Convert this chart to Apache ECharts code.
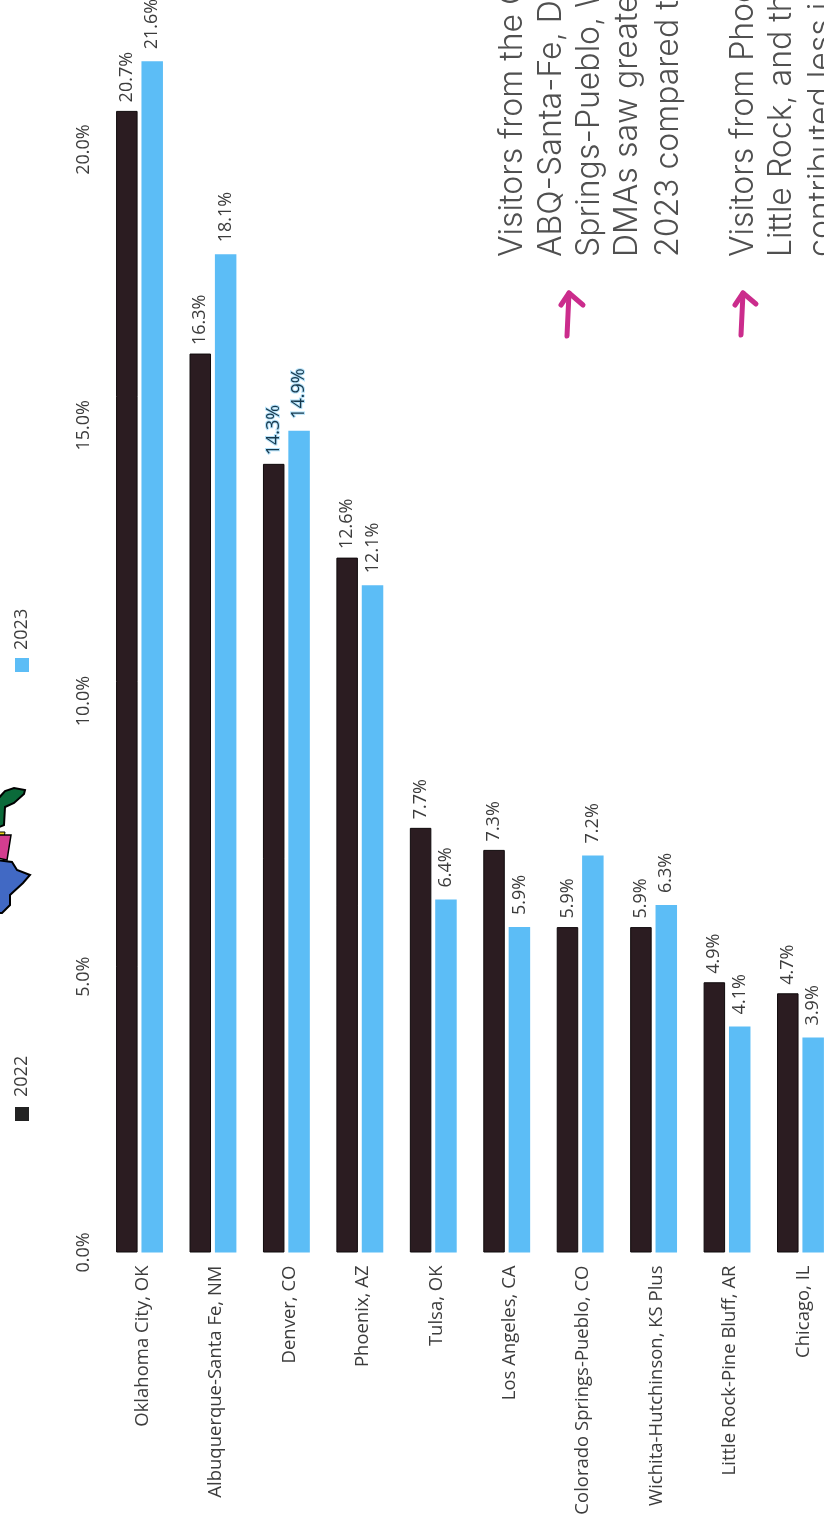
<!DOCTYPE html>
<html><head><meta charset="utf-8">
<style>html,body{margin:0;padding:0;background:#fff}#c{width:824px;height:1519px}</style>
<script src="https://cdn.jsdelivr.net/npm/echarts@6/dist/echarts.min.js"></script>
</head><body><div id="c"></div>
<script>
const categories = ['Oklahoma City, OK','Albuquerque-Santa Fe, NM','Denver, CO','Phoenix, AZ','Tulsa, OK','Los Angeles, CA','Colorado Springs-Pueblo, CO','Wichita-Hutchinson, KS Plus','Little Rock-Pine Bluff, AR','Chicago, IL'];
const values2022 = [20.7,16.3,14.3,12.6,7.7,7.3,5.9,5.9,4.9,4.7];
const values2023 = [21.6,18.1,14.9,12.1,6.4,5.9,7.2,6.3,4.1,3.9];
const seriesNames = ['2022','2023'];
const highlighted = 'Denver, CO';
const noteA = ['Visitors from the OKC,','ABQ-Santa-Fe, Denver,','Springs-Pueblo, Wichita','DMAs saw greater share','2023 compared to 2022'];
const noteB = ['Visitors from Phoenix,','Little Rock, and the','contributed less in'];
const DARK='#2b1c21', BLUE='#5cbdf6', TXT='#3c3c3c', PINK='#cb2c8c', FONT='"Open Sans"';
const vLabel = (vals)=>vals.map((v,i)=>categories[i]===highlighted
  ? {value:v,label:{fontWeight:500,color:'#17384c',textBorderColor:'#b5e2fa',textBorderWidth:2}}
  : {value:v});
const mkSeries=(name,vals,color,off,edge)=>({name,type:'bar',data:vLabel(vals),barWidth:21.5,barGap:'18%',
  itemStyle:{color,borderColor:edge,borderWidth:edge?1:0},
  label:{show:true,position:'top',rotate:90,distance:14,offset:[off,0],align:'left',verticalAlign:'middle',color:TXT,fontFamily:FONT,fontSize:18,formatter:p=>p.value.toFixed(1)+'%'}});
const rot=Math.PI/2;
const noteText=(t,x,y)=>({type:'text',x,y,rotation:rot,style:{text:t,fill:'#505050',font:'300 32px Inter',textAlign:'left',textVerticalAlign:'middle'}});
const arrow=(pts)=>({type:'polyline',shape:{points:pts},style:{stroke:PINK,lineWidth:5,fill:null,lineCap:'round',lineJoin:'round'}});
const graphics=[
 ...noteA.map((t,i)=>noteText(t,[512,551,589,627,668][i],257)),
 ...noteB.map((t,i)=>noteText(t,[743.5,781,821][i],257)),
 arrow([[567,336],[569,293]]),arrow([[561,305],[569,293],[583,305]]),
 arrow([[741,335],[743,293]]),arrow([[735,305],[743,293],[756,304]]),
 {type:'rect',shape:{x:15,y:1107,width:14,height:14},style:{fill:'#222'}},
 {type:'rect',shape:{x:15,y:658,width:14,height:14},style:{fill:BLUE}},
 {type:'text',x:22,y:1097,rotation:rot,style:{text:seriesNames[0],fill:TXT,font:'18px "Open Sans"',textAlign:'left',textVerticalAlign:'middle'}},
 {type:'text',x:22,y:650,rotation:rot,style:{text:seriesNames[1],fill:TXT,font:'18px "Open Sans"',textAlign:'left',textVerticalAlign:'middle'}},
 {type:'polygon',shape:{points:[[-3,800],[5,791],[14,788],[25,790],[24,794],[14,803],[5,807],[4,825],[-3,828]]},style:{fill:'#0b6a3a',stroke:'#000',lineWidth:2}},
 {type:'polygon',shape:{points:[[-3,832],[5,832],[4,838],[-3,838]]},style:{fill:'#e6d21c',stroke:'#000',lineWidth:1}},
 {type:'polygon',shape:{points:[[-3,835],[11,835],[7,860],[-3,858]]},style:{fill:'#d43d8f',stroke:'#000',lineWidth:1.5}},
 {type:'polygon',shape:{points:[[-3,860],[12,862],[17,870],[30,875],[23,883],[10,895],[10,905],[2,913],[-3,913]]},style:{fill:'#4169c4',stroke:'#000',lineWidth:2}}
];
const chart=echarts.init(document.getElementById('c'),null,{renderer:'canvas'});
chart.setOption({
 animation:false,backgroundColor:'#fff',
 grid:{left:102.8,width:734.4,top:-126.25,height:1378.75,containLabel:false,outerBoundsMode:'none'},
 xAxis:{type:'category',data:categories,axisLine:{show:false},axisTick:{show:false},
   axisLabel:{interval:0,rotate:90,margin:13,color:TXT,fontFamily:FONT,fontSize:18.5,verticalAlign:'top',lineHeight:6}},
 yAxis:{type:'value',min:0,max:25,interval:5,splitLine:{show:false},axisLine:{show:false},axisTick:{show:false},
   axisLabel:{rotate:90,margin:19,color:TXT,fontFamily:FONT,fontSize:18,align:'center',verticalAlign:'middle',formatter:v=>v.toFixed(1)+'%'}},
 series:[mkSeries(seriesNames[0],values2022,DARK,-5.5,'#0f0a0c'),mkSeries(seriesNames[1],values2023,BLUE,-2,null)],
 graphic:graphics
});
</script></body></html>
